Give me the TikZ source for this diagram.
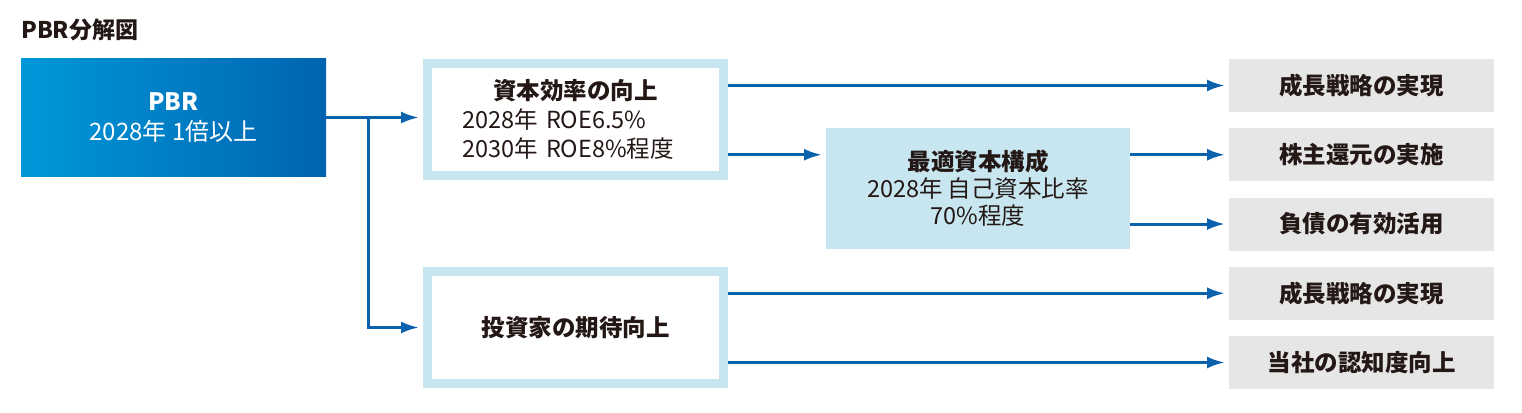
\documentclass[tikz,border=0pt]{standalone}
\usepackage{fontspec}
\setmainfont{Noto Sans CJK JP}
\usetikzlibrary{arrows.meta, positioning}
\definecolor{pbrLeft}{HTML}{0098DA}
\definecolor{pbrRight}{HTML}{0064B0}
\definecolor{frameBlue}{HTML}{C8E6F0}
\definecolor{goalGray}{HTML}{E6E6E6}
\definecolor{lineBlue}{HTML}{0A62AC}
\definecolor{inkDark}{HTML}{231815}

\begin{document}
\begin{tikzpicture}[
  x=1pt, y=-1pt,
  every node/.style={text=inkDark, font=\fontsize{23.5}{29}\selectfont},
  pbrbox/.style={left color=pbrLeft, right color=pbrRight, text=white, align=center,
                 minimum width=305pt, minimum height=117pt, inner sep=0pt, outer sep=0pt,
                 font=\fontsize{24}{30}\selectfont},
  frame/.style={draw=frameBlue, line width=9pt, fill=white, minimum width=296pt,
                minimum height=112pt, inner sep=0pt},
  capbox/.style={fill=frameBlue, align=center, minimum width=304pt, minimum height=121pt,
                 inner sep=0pt, outer sep=0pt, font=\fontsize{23.5}{27}\selectfont},
  goal/.style={fill=goalGray, minimum width=265pt, minimum height=53pt, inner sep=0pt,
               outer sep=0pt, font=\fontsize{23.5}{29}\selectfont\bfseries},
  arr/.style={-{Latex[length=18pt,width=12pt]}, line width=3pt, draw=lineBlue, shorten >=4pt}
]
  \useasboundingbox (0,0) rectangle (1522,412);

  \node[anchor=west, inner sep=0pt, font=\fontsize{23}{27}\selectfont\bfseries] (title) at (21,30) {PBR分解図};
  \node[pbrbox] (pbr) at (173.5,117.5) {\textbf{PBR}\\2028年 1倍以上};
  \coordinate[right=42pt of pbr] (split);
  \node[frame, right=97pt of pbr, yshift=-2pt, text width=226pt, align=left] (eff)
    {{\centering\bfseries 資本効率の向上\par}2028年 ROE6.5\%\\2030年 ROE8\%程度};
  \node[frame, below=87pt of eff] (inv) {\bfseries 投資家の期待向上};
  \node[capbox] (cap) at (978,188.5) {\textbf{最適資本構成}\\2028年 自己資本比率\\70\%程度};

  \node[goal] (g1) at (1361.5,85.5) {成長戦略の実現};
  \node[goal, below=16.25pt of g1] (g2) {株主還元の実施};
  \node[goal, below=16.25pt of g2] (g3) {負債の有効活用};
  \node[goal, below=16.25pt of g3] (g4) {成長戦略の実現};
  \node[goal, below=16.25pt of g4] (g5) {当社の認知度向上};

  \draw[arr] (pbr.east) -- (pbr.east -| eff.west);
  \draw[arr] (split) |- (inv);
  \draw[arr] (eff.east |- g1) -- (g1);
  \draw[arr] (eff.east |- g2) -- (cap.west |- g2);
  \draw[arr] (cap.east |- g2) -- (g2);
  \draw[arr] (cap.east |- g3) -- (g3);
  \draw[arr] (inv.east |- g4) -- (g4);
  \draw[arr] (inv.east |- g5) -- (g5);
\end{tikzpicture}
\end{document}
